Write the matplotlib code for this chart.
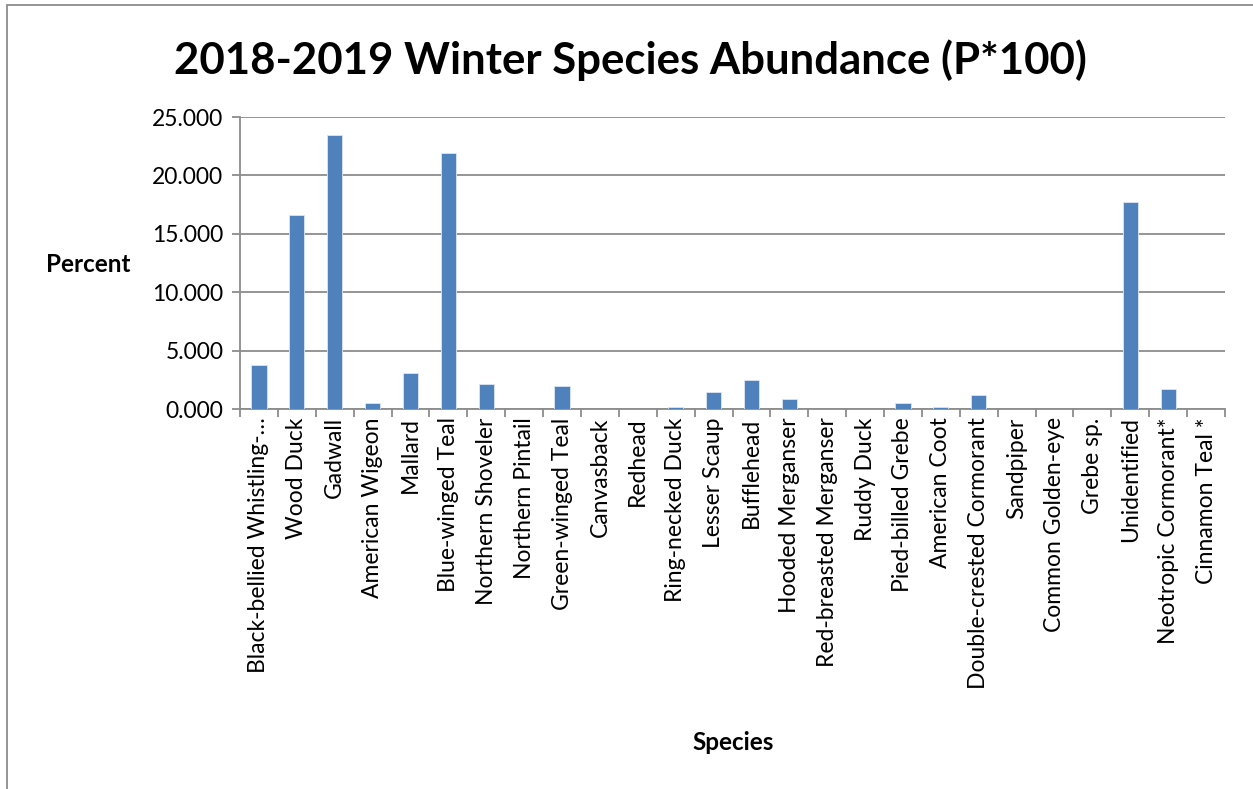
import matplotlib
matplotlib.use("Agg")
import matplotlib.pyplot as plt
from matplotlib.patches import Rectangle
from matplotlib.ticker import FixedLocator, FormatStrFormatter
import numpy as np

species = ["Black-bellied Whistling-…", "Wood Duck", "Gadwall", "American Wigeon", "Mallard",
           "Blue-winged Teal", "Northern Shoveler", "Northern Pintail", "Green-winged Teal",
           "Canvasback", "Redhead", "Ring-necked Duck", "Lesser Scaup", "Bufflehead",
           "Hooded Merganser", "Red-breasted Merganser", "Ruddy Duck", "Pied-billed Grebe",
           "American Coot", "Double-crested Cormorant", "Sandpiper", "Common Golden-eye",
           "Grebe sp.", "Unidentified", "Neotropic Cormorant*", "Cinnamon Teal *"]
percent = [3.76, 16.63, 23.47, 0.52, 3.04, 21.88, 2.15, 0.0, 1.95, 0.0, 0.0, 0.14, 1.43,
           2.50, 0.86, 0.0, 0.0, 0.52, 0.14, 1.20, 0.0, 0.0, 0.0, 17.70, 1.75, 0.0]
yticks = [0, 5, 10, 15, 20, 25]

plt.rcParams['font.family'] = ['Lato', 'DejaVu Sans']
W, H = 1253, 789
fig = plt.figure(figsize=(W/100, H/100), dpi=100)
ax = fig.add_axes([240/W, 1-409/H, (1225-240)/W, (409-117)/H])

x = np.arange(len(species))
ax.bar(x, percent, width=0.4, color='#4F81BD', edgecolor='#DCE6F2', linewidth=0.6, zorder=3)
ax.set_xlim(-0.5, len(species)-0.5)
ax.set_ylim(0, 25)
ax.yaxis.set_major_locator(FixedLocator(yticks))
ax.yaxis.set_major_formatter(FormatStrFormatter('%.3f'))
ax.grid(axis='y', color='#8C8C8C', linewidth=1.3, zorder=0)
ax.set_xticks(x)
ax.set_xticklabels(species, rotation=90, fontsize=16.5)
ax.tick_params(axis='x', length=0, pad=6)
ax.set_xticks(np.arange(len(species)+1)-0.5, minor=True)
ax.tick_params(axis='x', which='minor', length=6, color='#8C8C8C', width=1.3)
ax.tick_params(axis='y', labelsize=16.5, length=6, color='#8C8C8C', width=1.3, pad=6)
for s in ['top', 'right']:
    ax.spines[s].set_visible(False)
for s in ['left', 'bottom']:
    ax.spines[s].set_color('#8C8C8C')
    ax.spines[s].set_linewidth(1.3)

fig.text(630/W, 1-60/H, "2018-2019 Winter Species Abundance (P*100)", ha='center', va='center',
         fontsize=31.5, fontweight='bold')
fig.text(88/W, 1-265/H, "Percent", ha='center', va='center', fontsize=17.5, fontweight='bold')
fig.text(733/W, 1-742/H, "Species", ha='center', va='center', fontsize=17.5, fontweight='bold')

fig.patches.append(Rectangle((7/W, -0.1), 1.2, 1-5/H+0.1, transform=fig.transFigure,
                             fill=False, edgecolor='#8C8C8C', linewidth=1.3))
fig.savefig("out.png", dpi=100)
